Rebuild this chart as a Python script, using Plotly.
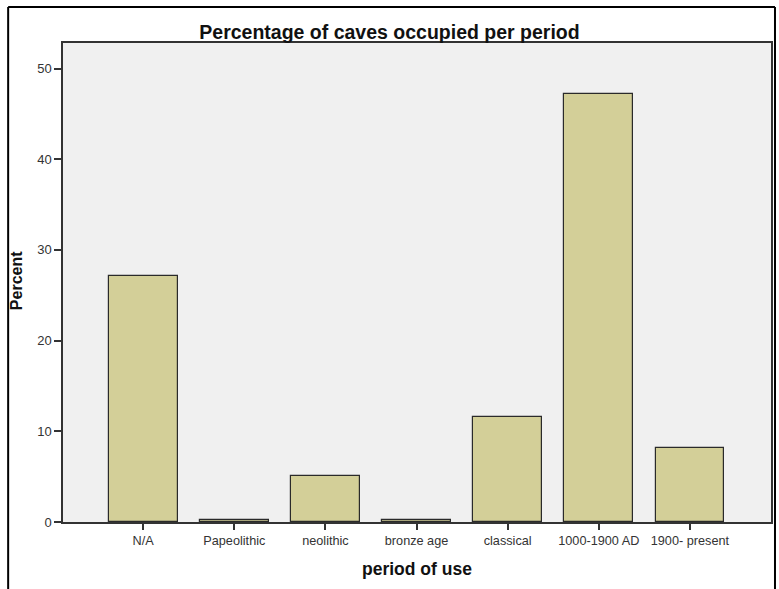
import plotly.graph_objects as go

categories = ["N/A", "Papeolithic", "neolithic", "bronze age", "classical", "1000-1900 AD", "1900- present"]
percent = [27.1, 0.2, 5.1, 0.2, 11.6, 47.2, 8.2]
y_ticks = [0, 10, 20, 30, 40, 50]

W, H = 779, 589
L, R, T, B = 63, 773, 43, 522  # plot area in pixels

fig = go.Figure(go.Bar(
    x=list(range(len(categories))),
    y=percent,
    width=0.755,
    marker=dict(color="#d3cf98", line=dict(color="#2a2a2a", width=1.2)),
))

pw, ph = R - L, B - T

def px(x):
    return (x - L) / pw

def py(y):
    return (B - y) / ph

fig.update_layout(
    width=W, height=H,
    margin=dict(l=L, r=W - R, t=T, b=H - B, pad=0),
    paper_bgcolor="white",
    plot_bgcolor="#f0f0f0",
    showlegend=False,
    bargap=0,
    font=dict(family="Liberation Sans, Arial, sans-serif", color="#333333"),
    title=dict(
        text="<b>Percentage of caves occupied per period</b>",
        x=0.5, xref="container", xanchor="center",
        y=1 - 32 / H, yref="container", yanchor="middle",
        font=dict(size=19.5, color="#111111"),
    ),
    xaxis=dict(
        range=[-0.88, 6.89],
        tickmode="array",
        tickvals=list(range(len(categories))),
        ticktext=categories,
        ticks="outside", ticklen=6, tickcolor="#333333", tickwidth=1.5,
        showline=True, linecolor="#333333", linewidth=1.5, mirror=True,
        showgrid=False, zeroline=False,
        tickfont=dict(size=12.7, color="#333333"),
        fixedrange=True,
    ),
    yaxis=dict(
        range=[0, (B - T) / 9.07],
        tickmode="array",
        tickvals=y_ticks,
        ticks="outside", ticklen=7, tickcolor="#333333", tickwidth=1.5,
        showline=True, linecolor="#333333", linewidth=1.5, mirror=True,
        showgrid=False, zeroline=False,
        tickfont=dict(size=13, color="#333333"),
        fixedrange=True,
    ),
    annotations=[
        dict(text="<b>Percent</b>", xref="paper", yref="paper",
             x=px(16), y=py(281), textangle=-90, showarrow=False,
             xanchor="center", yanchor="middle",
             font=dict(size=16, color="#111111")),
        dict(text="<b>period of use</b>", xref="paper", yref="paper",
             x=px(418), y=py(569), showarrow=False,
             xanchor="center", yanchor="middle",
             font=dict(size=17.5, color="#111111")),
    ],
    shapes=[
        dict(type="line", xref="paper", yref="paper",
             x0=px(8), x1=px(8), y0=py(7), y1=py(H + 5),
             line=dict(color="black", width=2)),
        dict(type="line", xref="paper", yref="paper",
             x0=px(8), x1=px(777), y0=py(7), y1=py(7),
             line=dict(color="black", width=2)),
        dict(type="line", xref="paper", yref="paper",
             x0=px(777), x1=px(777), y0=py(7), y1=py(H + 5),
             line=dict(color="black", width=2)),
    ],
)

fig.write_html(
    "out.html",
    config={"displayModeBar": False},
    post_script="document.body.style.margin='0';document.body.style.padding='0';",
)
